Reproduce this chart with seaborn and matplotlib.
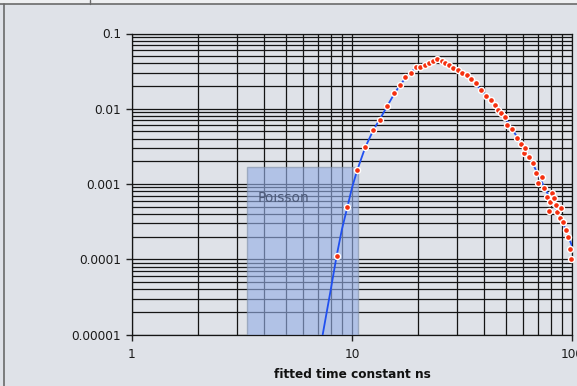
import numpy as np
import pandas as pd
import seaborn as sns
import matplotlib.pyplot as plt
from matplotlib.patches import Rectangle
from matplotlib.lines import Line2D
from matplotlib.ticker import LogLocator, FixedLocator, FixedFormatter, NullFormatter

# Histogram of fitted time constants (bin centre in ns, normalised frequency)
tau_ns = [8.52, 9.52, 10.57, 11.49, 12.50, 13.45, 14.47, 15.47, 16.53, 17.47,
          18.49, 19.54, 20.38, 21.47, 22.39, 23.42, 24.42, 25.57, 26.39, 27.52,
          28.88, 30.33, 31.72, 33.21, 34.74, 36.61, 38.46, 40.64, 42.97, 44.53,
          46.24, 47.71, 49.44, 50.8, 53.4, 56.4, 58.45, 60.5, 61.33, 63.9,
          66.3, 68.6, 70.3, 73.05, 74.6, 76.7, 78.9, 79.4, 80.9, 82.85,
          84.6, 85.8, 88.2, 88.9, 90.7, 93.9, 96.2, 97.9, 99.3]
frequency = [1.12e-4, 4.92e-4, 1.54e-3, 3.14e-3, 5.23e-3, 7.10e-3, 0.0110, 0.0161, 0.0207, 0.0262,
             0.0299, 0.0362, 0.0362, 0.0385, 0.0409, 0.0427, 0.0463, 0.0435, 0.0409, 0.0385,
             0.0348, 0.0328, 0.0302, 0.0279, 0.0251, 0.0222, 0.0178, 0.0148, 0.0131, 0.0113,
             0.00973, 0.00871, 0.00786, 0.00609, 0.00534, 0.00406, 0.00341, 0.00256, 0.00299, 0.00231,
             0.00189, 0.00139, 0.00103, 0.00125, 8.8e-4, 6.81e-4, 4.39e-4, 5.84e-4, 7.69e-4, 6.48e-4,
             5.28e-4, 4.3e-4, 3.51e-4, 4.77e-4, 3.17e-4, 2.46e-4, 2.0e-4, 1.37e-4, 1.01e-4]

# Fitted model curve
fit_tau = [7.36, 8.0, 8.52, 9.0, 9.52, 10.0, 10.57, 11.5, 12.5, 13.5, 14.5, 15.5, 16.5,
           17.5, 18.5, 19.5, 20.5, 22, 24, 26, 28, 30, 33, 36, 40, 44, 48, 52, 56,
           60, 65, 70, 75, 80, 85, 90, 95, 100]
fit_freq = [1.0e-5, 3.9e-5, 1.12e-4, 2.5e-4, 4.9e-4, 8.9e-4, 1.54e-3, 3.1e-3, 5.2e-3, 7.6e-3,
            0.011, 0.0155, 0.0205, 0.0255, 0.0305, 0.035, 0.0375, 0.041, 0.0445, 0.0432,
            0.038, 0.0335, 0.028, 0.0225, 0.0158, 0.0118, 0.0086, 0.0062, 0.0043,
            0.0031, 0.0021, 0.00135, 9.0e-4, 6.2e-4, 4.5e-4, 3.3e-4, 2.2e-4, 1.5e-4]

# Poisson-limited region
poisson_tau = [3.34, 10.68]
poisson_freq = [1e-5, 1.67e-3]

x_ticks = [1, 10, 100]
x_tick_labels = ["1", "10", "100"]
y_ticks = [1e-5, 1e-4, 1e-3, 1e-2, 1e-1]
y_tick_labels = ["0.00001", "0.0001", "0.001", "0.01", "0.1"]

bg = "#dfe2e8"
sns.set_theme(style="white", rc={"axes.facecolor": "none", "figure.facecolor": bg})
plt.rcParams["font.family"] = ["DejaVu Sans"]

fig = plt.figure(figsize=(5.77, 3.86), dpi=100)
ax = fig.add_axes([132 / 577, (386 - 334.5) / 386, 440 / 577, 301 / 386])

ax.set_xscale("log")
ax.set_yscale("log")
ax.set_xlim(1, 100)
ax.set_ylim(1e-5, 0.1)

ax.xaxis.set_major_locator(FixedLocator(x_ticks))
ax.xaxis.set_major_formatter(FixedFormatter(x_tick_labels))
ax.yaxis.set_major_locator(FixedLocator(y_ticks))
ax.yaxis.set_major_formatter(FixedFormatter(y_tick_labels))
ax.xaxis.set_minor_locator(LogLocator(base=10, subs=np.arange(2, 10)))
ax.yaxis.set_minor_locator(LogLocator(base=10, subs=np.arange(2, 10)))
ax.xaxis.set_minor_formatter(NullFormatter())
ax.yaxis.set_minor_formatter(NullFormatter())

ax.grid(True, which="both", color="#151515", linewidth=0.9)
ax.set_axisbelow(True)
ax.tick_params(axis="both", which="major", length=4, width=1, color="#222222",
               labelsize=8.7, labelcolor="#1a1a1a", pad=4, direction="out",
               left=True, bottom=True)
ax.tick_params(axis="both", which="minor", length=0)
ax.tick_params(axis="x", pad=6)
for side in ["left", "bottom", "top", "right"]:
    ax.spines[side].set_color("#151515")
    ax.spines[side].set_linewidth(0.9)

# Poisson band
ax.add_patch(Rectangle((poisson_tau[0], poisson_freq[0]),
                       poisson_tau[1] - poisson_tau[0], poisson_freq[1] - poisson_freq[0],
                       facecolor="#96afe6", alpha=0.62, edgecolor="#8090a8",
                       linewidth=1.0, zorder=3))
ax.text(3.71, 6.47e-4, "Poisson", fontsize=10, color="#4d5a78",
        ha="left", va="center", zorder=4)

fit_df = pd.DataFrame({"tau": fit_tau, "freq": fit_freq})
data_df = pd.DataFrame({"tau": tau_ns, "freq": frequency})

sns.lineplot(data=fit_df, x="tau", y="freq", ax=ax, color="#2050f0",
             linewidth=1.3, sort=False, zorder=5)
sns.scatterplot(data=data_df, x="tau", y="freq", ax=ax, color="#f5300f",
                marker="o", s=19, edgecolor="white", linewidth=1.0, zorder=6,
                clip_on=False)

ax.set_xlabel("fitted time constant ns", fontsize=8.7, fontweight="bold",
              color="#111111", labelpad=5)
ax.set_ylabel("")

# Frame of the surrounding panel
fig.patches.append(Rectangle((0, 0), 1, 1 - 4 / 386, transform=fig.transFigure,
                             facecolor=bg, edgecolor="none", zorder=-10))
fig.patches.append(Rectangle((0, 1 - 4 / 386), 1, 4 / 386, transform=fig.transFigure,
                             facecolor="#eeeff1", edgecolor="none", zorder=-10))
fig.lines.append(Line2D([0, 1], [1 - 4 / 386, 1 - 4 / 386], transform=fig.transFigure,
                        color="#6a6a6a", linewidth=1.2))
fig.lines.append(Line2D([3.5 / 577, 3.5 / 577], [0, 1 - 4 / 386], transform=fig.transFigure,
                        color="#6a6a6a", linewidth=1.2))
fig.lines.append(Line2D([90 / 577, 90 / 577], [1 - 4 / 386, 1], transform=fig.transFigure,
                        color="#6a6a6a", linewidth=1.0))

fig.savefig("out.png", dpi=100)
